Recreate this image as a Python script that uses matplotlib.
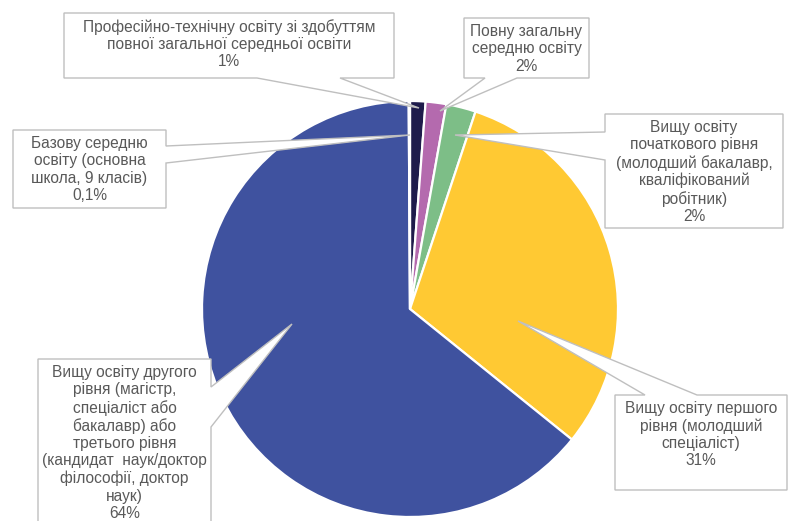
import matplotlib
matplotlib.use("Agg")
import matplotlib.pyplot as plt
from matplotlib.patches import Polygon

plt.rcParams['font.family'] = ['Liberation Sans', 'DejaVu Sans']

# data (clockwise from 12 o'clock)
categories = [
    "Професійно-технічну освіту зі здобуттям\nповної загальної середньої освіти",
    "Повну загальну\nсередню освіту",
    "Вищу освіту\nпочаткового рівня\n(молодший бакалавр,\nкваліфікований\nробітник)",
    "Вищу освіту першого\nрівня (молодший\nспеціаліст)",
    "Вищу освіту другого\nрівня (магістр,\nспеціаліст або\nбакалавр) або\nтретього рівня\n(кандидат  наук/доктор\nфілософії, доктор\nнаук)",
    "Базову середню\nосвіту (основна\nшкола, 9 класів)",
]
values = [1.2, 1.6, 2.3, 30.7, 64.1, 0.1]
pct_labels = ["1%", "2%", "2%", "31%", "64%", "0,1%"]
colors = ["#1E1B4B", "#B46AAE", "#7DBE87", "#FFC933", "#3F529F", "#5A5A8C"]

W, H = 791, 521
CX, CY, R = 410, 309, 208

# callout layout in pixel coords: box (x0, y0, x1, y1), side, pointer base, tip
callouts = [
    ((64, 13, 394, 78), "bottom", (257, 340), (419, 108)),
    ((464, 18, 589, 78), "bottom", (485, 517), (440, 111)),
    ((605, 114, 783, 228), "left", (132, 160), (455, 135)),
    ((615, 395, 787, 490), "top", (645, 697), (518, 321)),
    ((38, 359, 211, 560), "right", (387, 427), (292, 324)),
    ((13, 130, 166, 208), "right", (146, 163), (410, 135)),
]

fig = plt.figure(figsize=(W / 100, H / 100), dpi=100)
ax = fig.add_axes([0, 0, 1, 1])

ax.pie(values, colors=colors, startangle=90, counterclock=False,
       center=(CX, H - CY), radius=R,
       wedgeprops=dict(edgecolor="white", linewidth=1.6))

ax.set_xlim(0, W)
ax.set_ylim(0, H)
ax.set_aspect("equal")
ax.axis("off")


def fy(y):
    return H - y


for (box, side, base, tip), cat, pct in zip(callouts, categories, pct_labels):
    x0, y0, x1, y1 = box
    a, b = base
    if side == "bottom":
        pts = [(x0, y0), (x1, y0), (x1, y1), (b, y1), tip, (a, y1), (x0, y1)]
    elif side == "top":
        pts = [(x0, y0), (a, y0), tip, (b, y0), (x1, y0), (x1, y1), (x0, y1)]
    elif side == "right":
        pts = [(x0, y0), (x1, y0), (x1, a), tip, (x1, b), (x1, y1), (x0, y1)]
    else:
        pts = [(x0, y0), (x1, y0), (x1, y1), (x0, y1), (x0, b), tip, (x0, a)]
    poly = Polygon([(px, fy(py)) for px, py in pts], closed=True,
                   facecolor="white", edgecolor="#BFBFBF", linewidth=1.0,
                   zorder=3)
    ax.add_patch(poly)
    ax.text((x0 + x1) / 2, fy(y0) - 6, cat + "\n" + pct, ha="center", va="top",
            fontsize=11.2, color="#595959", linespacing=1.19, zorder=4)

fig.savefig("out.png", dpi=100)
